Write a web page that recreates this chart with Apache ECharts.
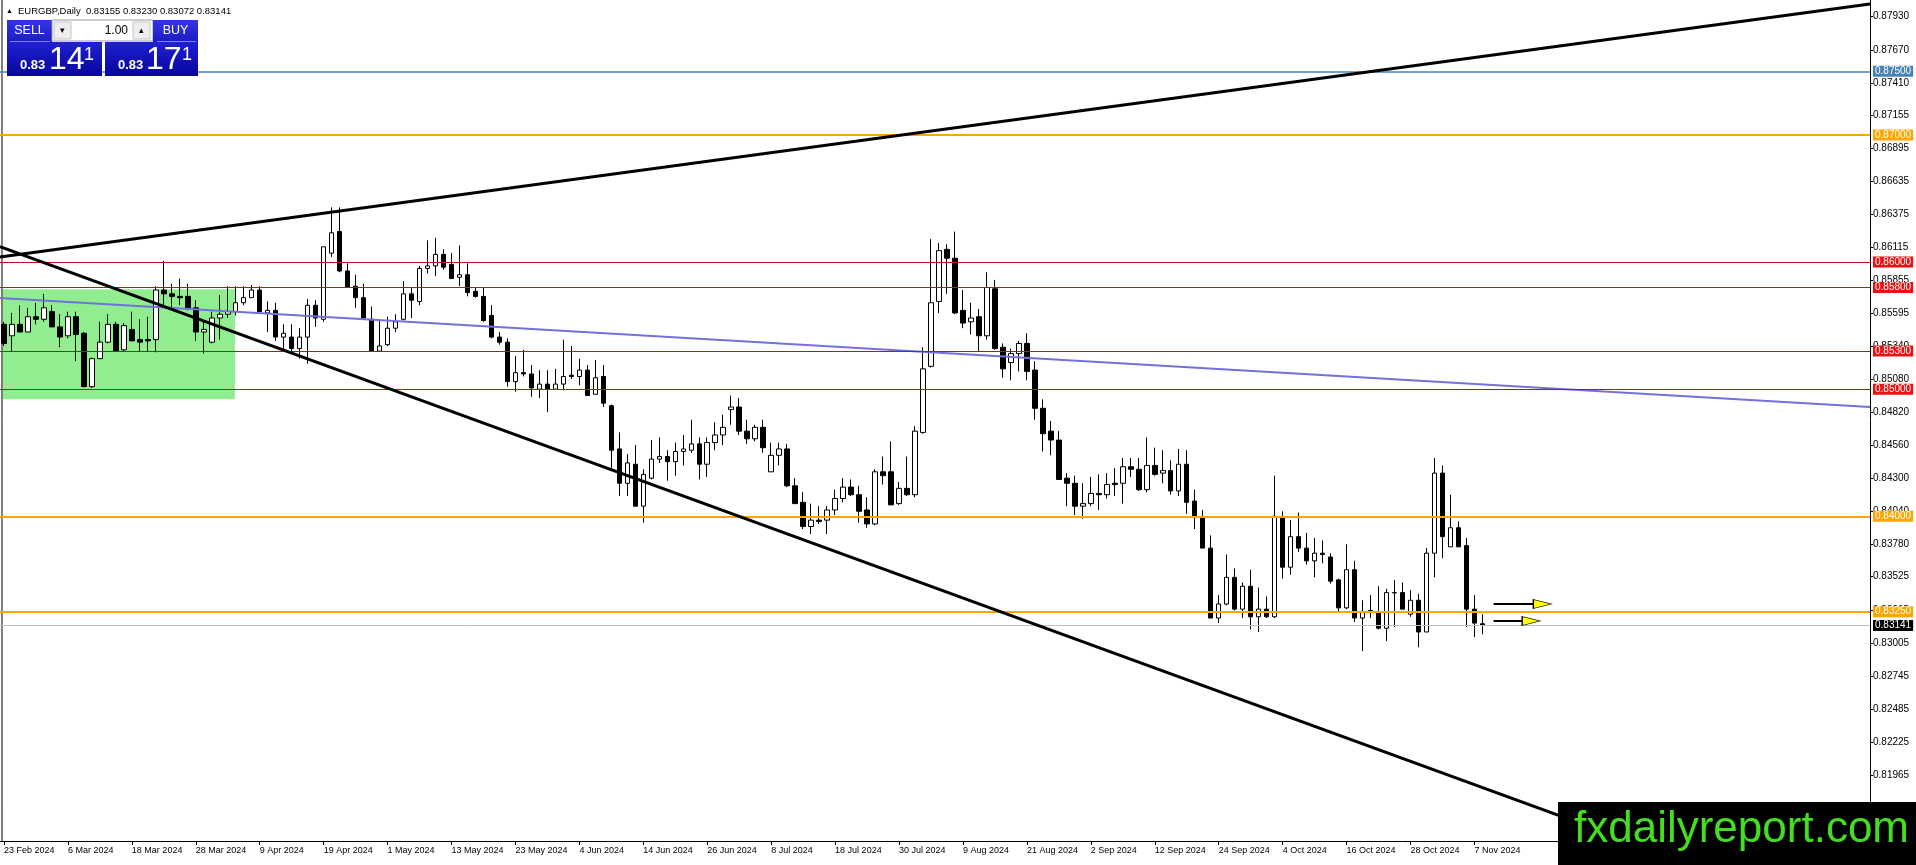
<!DOCTYPE html>
<html><head><meta charset="utf-8">
<script src="https://cdn.jsdelivr.net/npm/echarts@6/dist/echarts.min.js"></script>
<style>html,body{margin:0;padding:0;background:#fff;overflow:hidden}#c{width:1916px;height:865px}</style>
</head><body><div id="c"></div>
<script>
// ---------- data ----------
const symbolName = 'EURGBP,Daily';
const firstDay = [2024, 1, 23];      // 23 Feb 2024, daily weekday bars
const futureSlots = 48;              // empty chart shift on the right
const xLabelEvery = 8;

const openP = [0.8551,0.8542,0.8551,0.8545,0.8557,0.8555,0.8561,0.8549,0.8542,0.8557,
0.8544,0.8502,0.8524,0.8537,0.8551,0.8531,0.8547,0.8539,0.8539,0.8539,
0.8578,0.8575,0.8573,0.8573,0.8564,0.8545,0.8537,0.8556,0.8559,0.8561,
0.8568,0.8572,0.8578,0.8560,0.8562,0.8541,0.8541,0.8532,0.8541,0.8566,
0.8555,0.8607,0.8624,0.8593,0.8581,0.8572,0.8555,0.8530,0.8535,0.8548,
0.8555,0.8575,0.8569,0.8595,0.8597,0.8606,0.8598,0.8588,0.8590,0.8577,
0.8573,0.8558,0.8541,0.8537,0.8506,0.8513,0.8512,0.8500,0.8504,0.8500,
0.8504,0.8511,0.8510,0.8515,0.8496,0.8510,0.8487,0.8453,0.8426,0.8441,
0.8408,0.8430,0.8445,0.8447,0.8443,0.8451,0.8452,0.8457,0.8441,0.8458,
0.8464,0.8484,0.8486,0.8467,0.8461,0.8470,0.8435,0.8448,0.8453,0.8424,
0.8411,0.8392,0.8397,0.8397,0.8405,0.8414,0.8423,0.8417,0.8405,0.8394,
0.8435,0.8435,0.8410,0.8422,0.8417,0.8466,0.8518,0.8569,0.8610,0.8603,
0.8562,0.8553,0.8557,0.8542,0.8579,0.8533,0.8521,0.8528,0.8536,0.8515,
0.8485,0.8467,0.8460,0.8430,0.8426,0.8408,0.8410,0.8418,0.8417,0.8426,
0.8426,0.8439,0.8437,0.8421,0.8440,0.8434,0.8436,0.8420,0.8441,0.8412,
0.8399,0.8375,0.8320,0.8331,0.8352,0.8327,0.8345,0.8321,0.8327,0.8321,
0.8399,0.8360,0.8384,0.8375,0.8365,0.8371,0.8368,0.8350,0.8328,0.8358,
0.8320,0.8326,0.8325,0.8312,0.83398,0.8340,0.8323,0.8334,0.8309,0.8371,
0.8434,0.8376,0.8391,0.8377,0.8327,0.83155];
const highP = [0.8553,0.8560,0.8566,0.8564,0.8568,0.8575,0.8566,0.8559,0.8561,0.8561,
0.8545,0.8525,0.8553,0.8559,0.8553,0.8552,0.8561,0.8555,0.8557,0.8581,
0.8601,0.8583,0.8587,0.8583,0.8570,0.8553,0.8561,0.8574,0.8581,0.8581,
0.8581,0.8582,0.8581,0.8569,0.8568,0.8551,0.8551,0.8548,0.8571,0.8570,
0.8612,0.8643,0.8643,0.8599,0.8590,0.8583,0.8565,0.8555,0.8557,0.8559,
0.8585,0.8580,0.8597,0.8617,0.8619,0.8610,0.8607,0.8613,0.8599,0.8580,
0.8580,0.8566,0.8545,0.8540,0.8526,0.8531,0.8519,0.8515,0.8515,0.8516,
0.8539,0.8534,0.8524,0.8519,0.8523,0.8519,0.8488,0.8466,0.8449,0.8456,
0.8437,0.8460,0.8462,0.8452,0.8458,0.8464,0.8476,0.8462,0.8462,0.8474,
0.8480,0.8495,0.8493,0.8476,0.8472,0.8476,0.8458,0.8458,0.8457,0.8430,
0.8419,0.8410,0.8408,0.8408,0.8421,0.8430,0.8429,0.8424,0.8415,0.8437,
0.8447,0.8459,0.8427,0.8447,0.8471,0.8533,0.8618,0.8615,0.8614,0.8624,
0.8578,0.8568,0.8563,0.8592,0.8586,0.8536,0.8532,0.8538,0.8544,0.8522,
0.8492,0.8475,0.8467,0.8434,0.8432,0.8426,0.8431,0.8433,0.8434,0.8438,
0.8446,0.8446,0.8446,0.8462,0.8454,0.8452,0.8444,0.8453,0.8452,0.8421,
0.8405,0.8385,0.8338,0.8370,0.8359,0.8348,0.8358,0.8344,0.8337,0.8432,
0.8404,0.8397,0.8403,0.8387,0.8383,0.8381,0.8371,0.8351,0.8378,0.8365,
0.8334,0.8338,0.8345,0.8343,0.8350,0.8348,0.8342,0.8339,0.8375,0.8446,
0.8440,0.8417,0.8396,0.8383,0.8338,0.83230];
const lowP = [0.8534,0.8530,0.8545,0.8545,0.8551,0.8553,0.8549,0.8533,0.8540,0.8522,
0.8502,0.8501,0.8524,0.8536,0.8530,0.8530,0.8538,0.8530,0.8530,0.8529,
0.8564,0.8564,0.8566,0.8562,0.8538,0.8528,0.8536,0.8539,0.8556,0.8558,
0.8566,0.8572,0.8561,0.8545,0.8538,0.8531,0.8528,0.8524,0.8520,0.8549,
0.8553,0.8604,0.8592,0.8580,0.8564,0.8555,0.8530,0.8530,0.8534,0.8545,
0.8554,0.8556,0.8566,0.8591,0.8589,0.8594,0.8587,0.8581,0.8573,0.8572,
0.8553,0.8540,0.8535,0.8502,0.8498,0.8510,0.8494,0.8493,0.8482,0.8500,
0.8499,0.8508,0.8503,0.8495,0.8496,0.8486,0.8437,0.8416,0.8416,0.8408,
0.8395,0.8429,0.8442,0.8428,0.8432,0.8440,0.8450,0.8429,0.8431,0.8452,
0.8456,0.8472,0.8464,0.8457,0.8459,0.8450,0.8435,0.8440,0.8423,0.8410,
0.8390,0.8386,0.8394,0.8386,0.8401,0.8411,0.8416,0.8395,0.8391,0.8393,
0.8425,0.8409,0.8409,0.8416,0.8415,0.8465,0.8517,0.8560,0.8575,0.8559,
0.8548,0.8543,0.8530,0.8539,0.8531,0.8509,0.8507,0.8514,0.8507,0.8476,
0.8451,0.8448,0.8429,0.8408,0.8401,0.8398,0.8408,0.8405,0.8414,0.8416,
0.8410,0.8431,0.8420,0.8419,0.8432,0.8426,0.8417,0.8416,0.8402,0.8390,
0.8375,0.8320,0.8316,0.8330,0.8326,0.8320,0.8311,0.8309,0.8320,0.8320,
0.8351,0.8354,0.8372,0.8362,0.8352,0.8363,0.8347,0.8324,0.8327,0.8317,
0.8294,0.8320,0.8311,0.8302,0.8313,0.8327,0.8321,0.8297,0.8309,0.8352,
0.8367,0.8376,0.8376,0.8313,0.8305,0.83072];
const closeP = [0.8536,0.8551,0.8545,0.8557,0.8555,0.8564,0.8549,0.8541,0.8557,0.8543,
0.8502,0.8524,0.8537,0.8551,0.8530,0.8550,0.8538,0.8537,0.8538,0.8578,
0.8575,0.8573,0.8572,0.8564,0.8545,0.8547,0.8556,0.8559,0.8561,0.8568,
0.8572,0.8578,0.8561,0.8562,0.8541,0.8544,0.8532,0.8541,0.8566,0.8556,
0.8612,0.8623,0.8593,0.8580,0.8572,0.8556,0.8530,0.8534,0.8548,0.8553,
0.8575,0.8570,0.8595,0.8597,0.8606,0.8596,0.8587,0.8590,0.8576,0.8573,
0.8554,0.8541,0.8537,0.8506,0.8513,0.8512,0.8501,0.8504,0.8500,0.8504,
0.8510,0.8510,0.8515,0.8495,0.8509,0.8489,0.8452,0.8426,0.8442,0.8408,
0.8433,0.8445,0.8447,0.8443,0.8451,0.8453,0.8457,0.8441,0.8458,0.8464,
0.8470,0.8486,0.8467,0.8461,0.8470,0.8454,0.8448,0.8453,0.8424,0.8410,
0.8392,0.8397,0.8396,0.8405,0.8414,0.8423,0.8417,0.8404,0.8394,0.8435,
0.8432,0.8409,0.8422,0.8417,0.8467,0.8516,0.8568,0.8609,0.8603,0.8560,
0.8552,0.8556,0.8542,0.8580,0.8532,0.8516,0.8528,0.8536,0.8514,0.8485,
0.8465,0.8460,0.8429,0.8426,0.8408,0.8410,0.8418,0.8417,0.8425,0.8425,
0.8439,0.8437,0.8421,0.8440,0.8433,0.8436,0.8420,0.8441,0.8411,0.8399,
0.8375,0.8320,0.8331,0.8352,0.8327,0.8345,0.8321,0.8327,0.8321,0.8400,
0.8360,0.8384,0.8375,0.8365,0.8371,0.8370,0.8349,0.8328,0.8358,0.8320,
0.8325,0.8325,0.8312,0.8340,0.8340,0.8327,0.8334,0.8309,0.8371,0.8434,
0.8384,0.8391,0.8376,0.8327,0.8316,0.83141];

const yTickLabels = ['0.87930','0.87670','0.87410','0.87155','0.86895','0.86635','0.86375','0.86115',
'0.85855','0.85595','0.85340','0.85080','0.84820','0.84560','0.84300','0.84040','0.83780','0.83525',
'0.83265','0.83005','0.82745','0.82485','0.82225','0.81965'];
const yRange = [0.814461, 0.880614];

const blueLevels = [0.875];
const orangeLevels = [0.870, 0.840, 0.8325];
const redLevels = [0.860, 0.858, 0.853, 0.850];
const currentPrice = 0.83141;
const bidPrice = '0.83141';
const askPrice = '0.83171';
const lotText = '1.00';

// overlay objects in [bar index, price]
const upperTrend = [[-0.5, 0.86040], [233.5, 0.88030]];
const lowerTrend = [[-0.5, 0.86122], [233.5, 0.80754]];
const blueTrend  = [[-0.5, 0.85717], [233.5, 0.84860]];
const greenZone  = [[-0.16, 0.85786], [28.9, 0.84920]];
const arrowUpper = [[186.4, 0.83310], [192.5, 0.83310]];
const arrowLower = [[186.4, 0.83177], [191.1, 0.83177]];
const separatorLine = [[-0.25, 0.814461], [-0.25, 0.880614]];
const watermarkText = 'fxdailyreport.com';

// ---------- build ----------
const months = ['Jan','Feb','Mar','Apr','May','Jun','Jul','Aug','Sep','Oct','Nov','Dec'];
const dates = [];
let t = Date.UTC(firstDay[0], firstDay[1], firstDay[2]);
while (dates.length < openP.length) {
  const d = new Date(t);
  const wd = d.getUTCDay();
  if (wd !== 0 && wd !== 6) dates.push(d.getUTCDate() + ' ' + months[d.getUTCMonth()] + ' ' + d.getUTCFullYear());
  t += 86400000;
}
const categories = dates.concat(new Array(futureSlots).fill(''));
const N = categories.length;
const candles = openP.map((o, i) => [o, closeP[i], lowP[i], highP[i]]);

const FONT = 'Liberation Sans';
const lvl = (v, color, width, bg) => ({
  yAxis: v,
  lineStyle: {color: color, width: width, type: 'solid'},
  label: {show: true, position: 'end', distance: 3, formatter: v.toFixed(5), color: '#fff',
          backgroundColor: bg, padding: [1, 2, 0, 2], fontSize: 10, fontFamily: FONT}
});
const levelData = []
  .concat(blueLevels.map(v => lvl(v, '#4682B4', 1.6, '#4682B4')))
  .concat(orangeLevels.map(v => lvl(v, '#FFA500', 2, '#FFA500')))
  .concat(redLevels.map(v => lvl(v, '#C81010', 1.1, '#EE1111')))
  .concat([lvl(currentPrice, '#C0C0C0', 1, '#000000')]);

const arrowSeries = (pts) => ({
  type: 'line', xAxisIndex: 1, yAxisIndex: 0, z: 8, silent: true, showSymbol: true,
  data: [{value: pts[0], symbol: 'none'},
         {value: pts[1], symbol: 'triangle', symbolSize: [9, 18], symbolRotate: -90}],
  lineStyle: {color: '#000', width: 2},
  itemStyle: {color: '#FFFF00', borderColor: '#000', borderWidth: 1}
});
const trendSeries = (pts, color, width, z) => ({
  type: 'line', xAxisIndex: 1, yAxisIndex: 0, z: z, silent: true, symbol: 'none',
  data: pts, lineStyle: {color: color, width: width}, clip: true
});

const chart = echarts.init(document.getElementById('c'), null, {renderer: 'canvas'});
const blueGrad = (a, b) => new echarts.graphic.LinearGradient(0, 0, 0, 1, [{offset: 0, color: a}, {offset: 1, color: b}]);
const txt = (x, y, s, size, opts) => Object.assign({
  type: 'text', z: 101, silent: true,
  style: Object.assign({x: x, y: y, text: s, fill: '#fff', fontSize: size, fontFamily: FONT,
          align: 'left', verticalAlign: 'middle'}, opts || {})
});
const bidMain = bidPrice.slice(0, 4), bidBig = bidPrice.slice(4, 6), bidPip = bidPrice.slice(6);
const askMain = askPrice.slice(0, 4), askBig = askPrice.slice(4, 6), askPip = askPrice.slice(6);
const last = openP.length - 1;
const titleText = symbolName + '  ' + openP[last].toFixed(5) + ' ' + highP[last].toFixed(5) + ' ' +
                  lowP[last].toFixed(5) + ' ' + closeP[last].toFixed(5);

chart.setOption({
  animation: false,
  backgroundColor: '#ffffff',
  grid: {left: 0, right: 46, top: 0, bottom: 24, containLabel: false},
  xAxis: [{
    type: 'category', data: categories, boundaryGap: true,
    axisLine: {show: true, onZero: false, lineStyle: {color: '#000', width: 1}},
    axisTick: {show: true, alignWithLabel: true, length: 4, lineStyle: {color: '#000'},
               interval: (i, v) => v !== '' && i % xLabelEvery === 0},
    axisLabel: {show: true, interval: (i, v) => v !== '' && i % xLabelEvery === 0,
                align: 'left', margin: 5, fontSize: 9, color: '#000', fontFamily: FONT},
    splitLine: {show: false}
  }, {
    type: 'value', min: -0.5, max: N - 0.5, show: false
  }],
  yAxis: [{
    type: 'value', position: 'right', min: yRange[0], max: yRange[1], scale: true,
    axisLine: {show: true, onZero: false, lineStyle: {color: '#000', width: 1}},
    axisTick: {show: true, length: 3, lineStyle: {color: '#000'}, customValues: yTickLabels.map(Number)},
    axisLabel: {show: true, margin: 3, fontSize: 10, color: '#000', fontFamily: FONT,
                customValues: yTickLabels.map(Number), formatter: v => v.toFixed(5)},
    splitLine: {show: false}
  }],
  series: [
    { // green zone
      type: 'line', xAxisIndex: 1, yAxisIndex: 0, z: 1, silent: true, data: [], symbol: 'none',
      markArea: {silent: true, precision: 6, itemStyle: {color: '#90EE90', opacity: 1},
        data: [[{coord: greenZone[0]}, {coord: greenZone[1]}]]}
    },
    trendSeries(separatorLine, '#000000', 1, 2),
    {
      type: 'candlestick', xAxisIndex: 0, yAxisIndex: 0, z: 3, data: candles, barWidth: 5,
      itemStyle: {color: '#ffffff', color0: '#000000', borderColor: '#000000', borderColor0: '#000000', borderWidth: 1}
    },
    trendSeries(blueTrend, '#7470DC', 2, 4),
    trendSeries(upperTrend, '#000000', 3, 6),
    trendSeries(lowerTrend, '#000000', 3, 6),
    { // horizontal levels
      type: 'line', xAxisIndex: 1, yAxisIndex: 0, z: 5, silent: true, data: [], symbol: 'none',
      markLine: {silent: true, symbol: 'none', precision: 6, animation: false, data: levelData}
    },
    arrowSeries(arrowUpper),
    arrowSeries(arrowLower)
  ],
  graphic: [
    // title
    txt(6, 11, '\u25B2', 7, {fill: '#000'}),
    txt(18, 11, titleText, 9.5, {fill: '#000'}),
    // SELL header
    {type: 'rect', z: 100, silent: true, shape: {x: 7, y: 20, width: 45, height: 22}, style: {fill: blueGrad('#3434e6', '#1c1cc4')}},
    txt(29.5, 31, 'SELL', 12.5, {align: 'center'}),
    {type: 'line', z: 101, silent: true, shape: {x1: 10, y1: 41.5, x2: 50, y2: 41.5}, style: {stroke: '#8080ff', lineWidth: 1}},
    // lot strip
    {type: 'rect', z: 100, silent: true, shape: {x: 52, y: 20, width: 101, height: 21}, style: {fill: '#ffffff', stroke: '#9a9a9a', lineWidth: 1}},
    {type: 'rect', z: 101, silent: true, shape: {x: 54, y: 22, width: 17, height: 17}, style: {fill: '#eeeeee', stroke: '#c4c4c4', lineWidth: 1}},
    txt(62.5, 31, '\u25BE', 9, {fill: '#000', align: 'center'}),
    {type: 'rect', z: 101, silent: true, shape: {x: 133, y: 22, width: 17, height: 17}, style: {fill: '#eeeeee', stroke: '#c4c4c4', lineWidth: 1}},
    txt(141.5, 31, '\u25B4', 9, {fill: '#000', align: 'center'}),
    txt(128, 31, lotText, 12, {fill: '#000', align: 'right'}),
    // BUY header
    {type: 'rect', z: 100, silent: true, shape: {x: 153, y: 20, width: 45, height: 22}, style: {fill: blueGrad('#3434e6', '#1c1cc4')}},
    txt(175.5, 31, 'BUY', 12.5, {align: 'center'}),
    {type: 'line', z: 101, silent: true, shape: {x1: 157, y1: 41.5, x2: 196, y2: 41.5}, style: {stroke: '#8080ff', lineWidth: 1}},
    // price boxes
    {type: 'rect', z: 100, silent: true, shape: {x: 7, y: 42, width: 95, height: 34}, style: {fill: blueGrad('#2020d4', '#06069a')}},
    {type: 'rect', z: 100, silent: true, shape: {x: 105, y: 42, width: 93, height: 34}, style: {fill: blueGrad('#2020d4', '#06069a')}},
    txt(20, 65.5, bidMain, 13, {fontWeight: 'bold'}),
    txt(49, 60, bidBig, 32),
    txt(84, 55, bidPip, 18),
    txt(118, 65.5, askMain, 13, {fontWeight: 'bold'}),
    txt(146, 60, askBig, 32),
    txt(182, 55, askPip, 18),
    // watermark
    {type: 'rect', z: 110, silent: true, shape: {x: 1558, y: 802, width: 358, height: 63}, style: {fill: '#000000'}},
    {type: 'text', z: 111, silent: true, style: {x: 1574, y: 830, text: watermarkText, fill: '#44DD22',
      fontSize: 44, fontFamily: FONT, align: 'left', verticalAlign: 'middle'}}
  ]
});
</script>
</body></html>
